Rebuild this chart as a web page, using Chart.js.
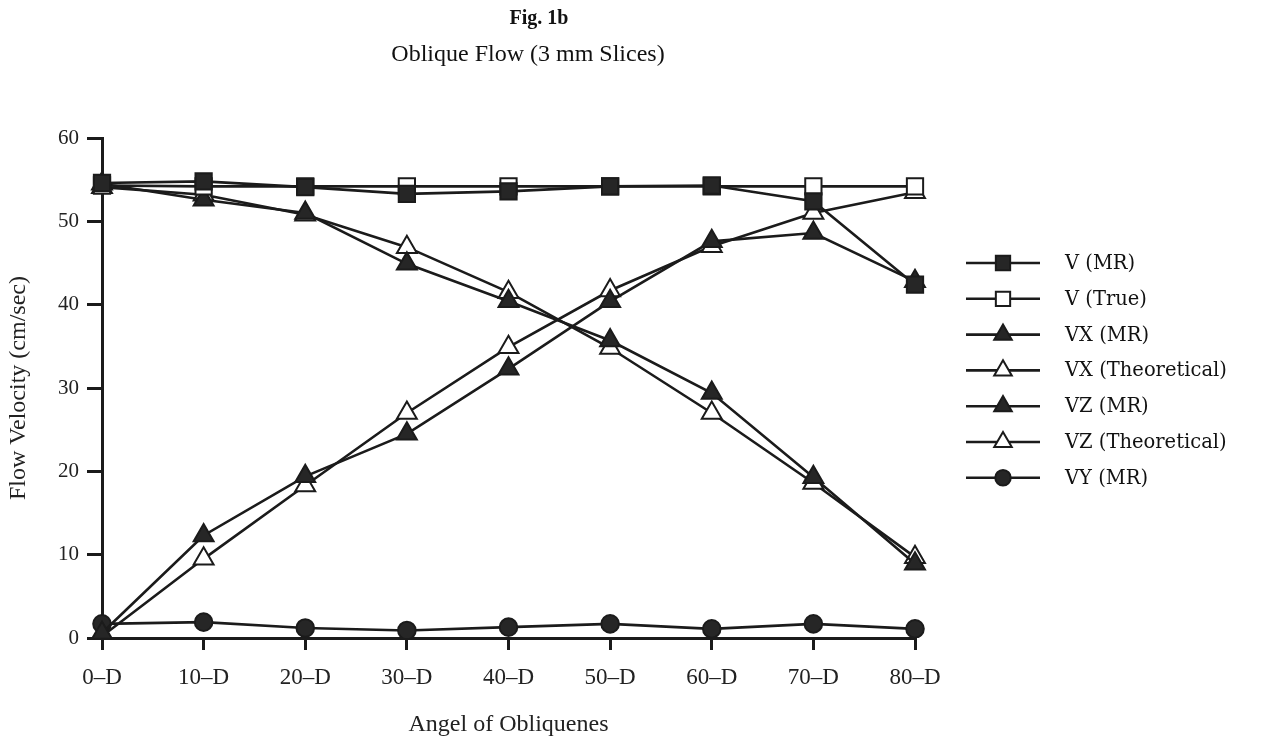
<!DOCTYPE html>
<html><head><meta charset="utf-8">
<script src="https://cdn.jsdelivr.net/npm/chart.js@4.4.1/dist/chart.umd.min.js"></script>
<style>html,body{margin:0;padding:0;background:#fff}canvas{display:block}</style>
</head><body>
<canvas id="c" width="1267" height="742"></canvas>
<script>
const categories = ['0–D','10–D','20–D','30–D','40–D','50–D','60–D','70–D','80–D'];
const yTicks = [0,10,20,30,40,50,60];
const vMR      = [54.6, 54.8, 54.1, 53.3, 53.6, 54.2, 54.3, 52.4, 42.4];
const vTrue    = [54.3, 54.2, 54.2, 54.2, 54.2, 54.2, 54.2, 54.2, 54.2];
const vxMR     = [54.5, 52.6, 51.0, 44.9, 40.4, 35.7, 29.4, 19.3, 8.9];
const vxTheo   = [54.1, 53.2, 50.8, 46.9, 41.5, 34.8, 27.0, 18.6, 9.7];
const vzMR     = [0.6, 12.3, 19.4, 24.5, 32.3, 40.4, 47.6, 48.6, 42.8];
const vzTheo   = [0.2, 9.5, 18.3, 27.0, 34.9, 41.7, 47.0, 51.0, 53.5];
const vyMR     = [1.7, 1.9, 1.2, 0.9, 1.3, 1.7, 1.1, 1.7, 1.1];
const seriesNames = ['V (MR)','V (True)','VX (MR)','VX (Theoretical)','VZ (MR)','VZ (Theoretical)','VY (MR)'];

const INK = '#1b1b1b';
const SERIF = '"Liberation Serif", "DejaVu Serif", serif';
const WIDE = '"DejaVu Serif", "Liberation Serif", serif';

function ds(label, data, style, filled, radius) {
  return {
    label, data,
    borderColor: INK, borderWidth: 2.6,
    pointStyle: style, pointRadius: radius, pointHoverRadius: radius,
    pointBackgroundColor: filled ? '#262626' : '#ffffff',
    pointBorderColor: INK, pointBorderWidth: 2,
    tension: 0, fill: false
  };
}

const datasets = [
  ds(seriesNames[0], vMR, 'rect', true, 11.5),
  ds(seriesNames[1], vTrue, 'rect', false, 11.5),
  ds(seriesNames[2], vxMR, 'triangle', true, 11.5),
  ds(seriesNames[3], vxTheo, 'triangle', false, 11.5),
  ds(seriesNames[4], vzMR, 'triangle', true, 11.5),
  ds(seriesNames[5], vzTheo, 'triangle', false, 11.5),
  ds(seriesNames[6], vyMR, 'circle', true, 8.8)
];

const decorPlugin = {
  id: 'decor',
  afterDraw(chart) {
    const ctx = chart.ctx;
    const area = chart.chartArea;
    ctx.save();
    ctx.fillStyle = '#111';
    ctx.textAlign = 'center';
    ctx.textBaseline = 'middle';
    ctx.font = 'bold 20px ' + SERIF;
    ctx.fillText('Fig. 1b', 539, 19);
    ctx.font = '24px ' + SERIF;
    ctx.fillText('Oblique Flow (3 mm Slices)', 528, 55);
    // legend
    const x0 = area.right + 51, x1 = area.right + 125, xm = (x0 + x1) / 2;
    const top = 263, gap = 35.8;
    chart.data.datasets.forEach((d, i) => {
      const y = top + i * gap;
      ctx.strokeStyle = d.borderColor;
      ctx.lineWidth = d.borderWidth;
      ctx.beginPath(); ctx.moveTo(x0, y); ctx.lineTo(x1, y); ctx.stroke();
      ctx.fillStyle = d.pointBackgroundColor;
      ctx.strokeStyle = d.pointBorderColor;
      ctx.lineWidth = d.pointBorderWidth;
      Chart.helpers.drawPoint(ctx, {pointStyle: d.pointStyle, radius: d.pointRadius * 0.88, borderWidth: d.pointBorderWidth, rotation: 0}, xm, y);
      ctx.fillStyle = '#111';
      ctx.textAlign = 'left';
      ctx.font = '19.5px ' + WIDE;
      ctx.fillText(d.label, area.right + 150, y + 1);
    });
    ctx.restore();
  }
};

new Chart(document.getElementById('c'), {
  type: 'line',
  data: { labels: categories, datasets },
  plugins: [decorPlugin],
  options: {
    responsive: false,
    animation: false,
    layout: { padding: { left: 0, right: 352, top: 138, bottom: 0 } },
    plugins: { legend: { display: false }, tooltip: { enabled: false }, title: { display: false } },
    scales: {
      x: {
        type: 'category',
        offset: false,
        afterFit(s) { s.height = 104; },
        grid: { drawOnChartArea: false, drawTicks: true, tickLength: 12, color: INK, lineWidth: 3, offset: false },
        border: { display: true, color: INK, width: 3 },
        ticks: { color: '#222', font: { family: SERIF, size: 23 }, padding: 14, maxRotation: 0, autoSkip: false },
        title: { display: true, text: 'Angel of Obliquenes', color: '#222', font: { family: SERIF, size: 24 }, padding: { top: 4, bottom: 3 } }
      },
      y: {
        min: 0, max: 60,
        afterFit(s) { s.width = 102; },
        afterBuildTicks(s) { s.ticks = yTicks.map(v => ({ value: v })); },
        grid: { drawOnChartArea: false, drawTicks: true, tickLength: 15, color: INK, lineWidth: 3 },
        border: { display: true, color: INK, width: 3 },
        ticks: { color: '#222', font: { family: SERIF, size: 21 }, padding: 8 },
        title: { display: true, text: 'Flow Velocity (cm/sec)', color: '#222', font: { family: SERIF, size: 24 }, padding: { top: 4, bottom: 4 } }
      }
    }
  }
});
</script>
</body></html>
